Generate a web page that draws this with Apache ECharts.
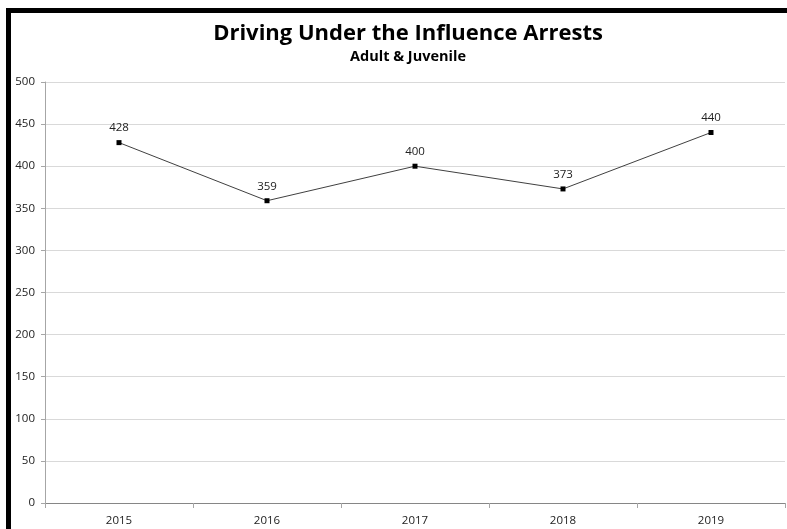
<!DOCTYPE html>
<html>
<head>
<meta charset="utf-8">
<script src="https://cdn.jsdelivr.net/npm/echarts@6/dist/echarts.min.js"></script>
<style>
html,body{margin:0;padding:0;background:#fff;}
#c{width:787px;height:529px;}
</style>
</head>
<body>
<div id="c"></div>
<script>
const categories = ['2015', '2016', '2017', '2018', '2019'];
const arrests = [428, 359, 400, 373, 440];
const yTicks = [0, 50, 100, 150, 200, 250, 300, 350, 400, 450, 500];

const chart = echarts.init(document.getElementById('c'), null, {renderer: 'canvas'});
const font = 'Open Sans';
chart.setOption({
  animation: false,
  backgroundColor: '#fff',
  title: {
    text: 'Driving Under the Influence Arrests',
    subtext: 'Adult & Juvenile',
    left: 403, textAlign: 'center', top: 18,
    itemGap: 4,
    textStyle: {fontFamily: font, fontWeight: 'bold', fontSize: 22, color: '#000'},
    subtextStyle: {fontFamily: font, fontWeight: 'bold', fontSize: 14.5, color: '#000'}
  },
  grid: {left: 45, right: 2, top: 82, bottom: 26, containLabel: false},
  xAxis: {
    type: 'category',
    data: categories,
    boundaryGap: true,
    axisLine: {lineStyle: {color: '#868686', width: 1}},
    axisTick: {show: true, length: 5, lineStyle: {color: '#a6a6a6'}},
    axisLabel: {fontFamily: font, fontSize: 11.5, color: '#222', margin: 12}
  },
  yAxis: {
    type: 'value',
    min: yTicks[0], max: yTicks[yTicks.length - 1], interval: 50,
    axisLine: {show: true, lineStyle: {color: '#a6a6a6', width: 1}},
    axisTick: {show: true, length: 4, lineStyle: {color: '#a6a6a6'}},
    splitLine: {lineStyle: {color: '#d9d9d9', width: 1}},
    axisLabel: {fontFamily: font, fontSize: 11.5, color: '#222', margin: 10}
  },
  series: [{
    type: 'line',
    data: arrests,
    symbol: 'rect',
    symbolSize: 5,
    itemStyle: {color: '#000'},
    lineStyle: {color: '#404040', width: 1},
    label: {show: true, position: 'top', distance: 6, fontFamily: font, fontSize: 11.5, color: '#222'}
  }],
  graphic: [
    {type: 'rect', shape: {x: 6, y: 8, width: 781, height: 5}, style: {fill: '#000'}, z: 100},
    {type: 'rect', shape: {x: 6, y: 8, width: 5, height: 521}, style: {fill: '#000'}, z: 100}
  ]
});
</script>
</body>
</html>
